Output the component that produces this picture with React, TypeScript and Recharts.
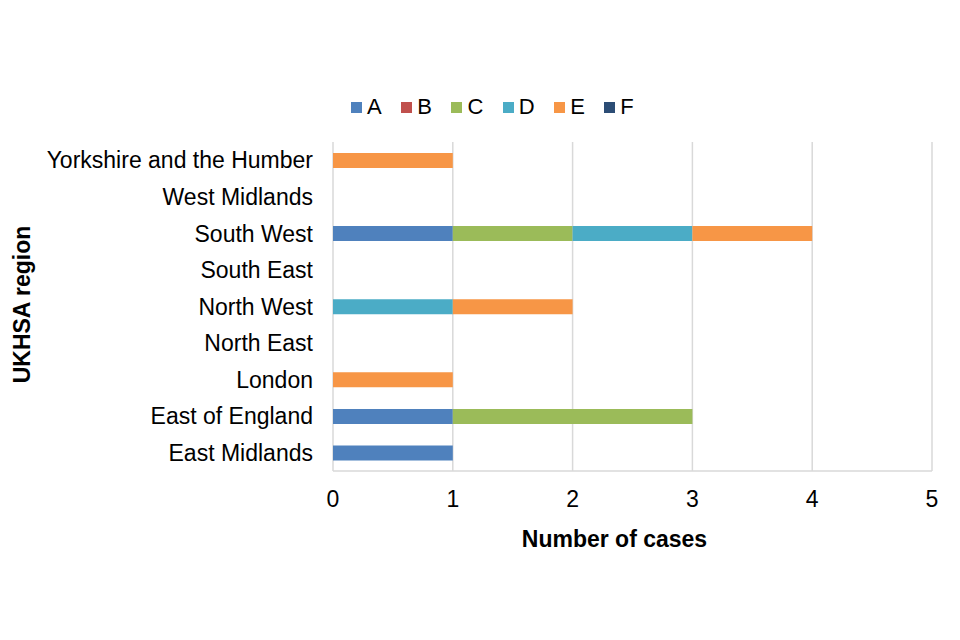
import React from 'react';
import { BarChart, Bar, XAxis, YAxis, CartesianGrid, Legend, Label } from 'recharts';

const regions = [
  'Yorkshire and the Humber',
  'West Midlands',
  'South West',
  'South East',
  'North West',
  'North East',
  'London',
  'East of England',
  'East Midlands',
];
const seriesA = [0, 0, 1, 0, 0, 0, 0, 1, 1];
const seriesB = [0, 0, 0, 0, 0, 0, 0, 0, 0];
const seriesC = [0, 0, 1, 0, 0, 0, 0, 2, 0];
const seriesD = [0, 0, 1, 0, 1, 0, 0, 0, 0];
const seriesE = [1, 0, 1, 0, 1, 0, 1, 0, 0];
const seriesF = [0, 0, 0, 0, 0, 0, 0, 0, 0];
const xTicks = [0, 1, 2, 3, 4, 5];

const seriesKeys = ['A', 'B', 'C', 'D', 'E', 'F'];
const seriesColors = ['#4F81BD', '#C0504D', '#9BBB59', '#4BACC6', '#F79646', '#2C4D75'];
const seriesValues = [seriesA, seriesB, seriesC, seriesD, seriesE, seriesF];

const data = regions.map((region, i) => {
  const row: Record<string, any> = { region };
  seriesKeys.forEach((k, j) => {
    row[k] = seriesValues[j][i];
  });
  return row;
});

const FONT = '"Liberation Sans", Arial, sans-serif';
const FS = 23;

const renderLegend = () => (
  <div
    style={{
      display: 'flex',
      alignItems: 'center',
      paddingLeft: 351,
      height: 22,
      lineHeight: '22px',
      fontFamily: FONT,
      fontSize: 22,
      color: '#000',
    }}
  >
    {seriesKeys.map((k, j) => (
      <div key={k} style={{ display: 'flex', alignItems: 'center', marginRight: 19.5 }}>
        <span style={{ display: 'inline-block', width: 11, height: 11, background: seriesColors[j], marginRight: 5 }} />
        <span>{k}</span>
      </div>
    ))}
  </div>
);

const XLabel = (props: any) => {
  const vb = props.viewBox || {};
  return (
    <text
      x={vb.x + vb.width / 2 - 18}
      y={vb.y + 76}
      textAnchor="middle"
      fontFamily={FONT}
      fontSize={FS}
      fontWeight="bold"
      fill="#000"
    >
      Number of cases
    </text>
  );
};

const YLabel = (props: any) => {
  const vb = props.viewBox || {};
  const x = vb.x + 30;
  const y = vb.y + vb.height / 2 - 2;
  return (
    <text
      x={x}
      y={y}
      transform={`rotate(-90, ${x}, ${y})`}
      textAnchor="middle"
      fontFamily={FONT}
      fontSize={FS}
      fontWeight="bold"
      fill="#000"
    >
      UKHSA region
    </text>
  );
};

export default function App() {
  return (
    <div style={{ position: 'absolute', left: 0, top: 0, width: 960, height: 640, background: '#fff' }}>
      <BarChart
        width={960}
        height={640}
        data={data}
        layout="vertical"
        margin={{ top: 120, right: 28, bottom: 109, left: 0 }}
        barSize={15}
      >
        <CartesianGrid horizontal={false} stroke="#D9D9D9" strokeWidth={1.5} />
        <XAxis
          type="number"
          domain={[0, 5]}
          ticks={xTicks}
          height={60}
          tickLine={false}
          tickSize={0}
          tickMargin={20}
          axisLine={{ stroke: '#D9D9D9', strokeWidth: 1.5 }}
          tick={{ fontFamily: FONT, fontSize: FS, fill: '#000' }}
        >
          <Label content={<XLabel />} />
        </XAxis>
        <YAxis
          type="category"
          dataKey="region"
          width={333}
          tickLine={false}
          tickSize={0}
          tickMargin={20}
          axisLine={false}
          interval={0}
          tick={{ fontFamily: FONT, fontSize: FS, fill: '#000' }}
        >
          <Label content={<YLabel />} />
        </YAxis>
        <Legend
          verticalAlign="top"
          content={renderLegend}
          wrapperStyle={{ position: 'absolute', top: 96, left: 0, width: 960 }}
        />
        {seriesKeys.map((k, j) => (
          <Bar key={k} dataKey={k} stackId="a" fill={seriesColors[j]} isAnimationActive={false} />
        ))}
      </BarChart>
    </div>
  );
}
